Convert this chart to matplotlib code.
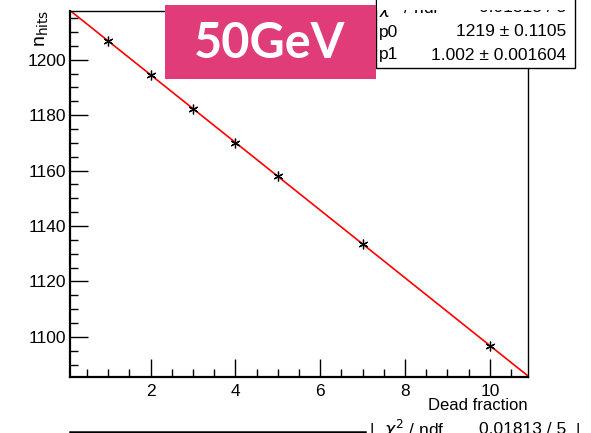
import matplotlib
matplotlib.use("Agg")
import matplotlib.pyplot as plt
from matplotlib.patches import Rectangle
from matplotlib.lines import Line2D
from matplotlib.ticker import MultipleLocator
import numpy as np

# dead fraction scan at 50 GeV
dead_fraction = [1, 2, 3, 4, 5, 7, 10]
n_hits = [1206.8, 1194.6, 1182.4, 1170.1, 1157.9, 1133.5, 1096.8]
p0, p0_err = 1219, 0.1105
p1, p1_err = 1.002, 0.001604
chi2_label = "0.01813 / 5"
beam_label = "50GeV"

W, H = 591, 433
plt.rcParams["font.family"] = ["Liberation Sans", "DejaVu Sans"]

fig = plt.figure(figsize=(W / 100, H / 100), dpi=100)


def fx(px):
    return px / W


def fy(py):
    return 1 - py / H


ax = fig.add_axes([fx(70), fy(377), fx(528) - fx(70), fy(11) - fy(377)])
ax.set_xlim(0.1, 10.9)
ax.set_ylim(1085.5, 1217.6)

xs = np.linspace(0.1, 10.9, 200)
ax.plot(xs, p0 * (1 - p1 * xs / 100), color="#ff0000", lw=1.2, zorder=2)
ax.plot(dead_fraction, n_hits, ls="none", marker=(6, 2, 0), ms=7,
        mec="black", mew=0.9, zorder=3)

ax.xaxis.set_major_locator(MultipleLocator(2))
ax.xaxis.set_minor_locator(MultipleLocator(0.5))
ax.yaxis.set_major_locator(MultipleLocator(20))
ax.yaxis.set_minor_locator(MultipleLocator(5))
ax.tick_params(which="both", direction="in", top=False, right=False,
               width=1.0, labelsize=12.5, colors="black")
ax.tick_params(axis="y", which="major", length=13, pad=3)
ax.tick_params(axis="x", which="major", length=13, pad=5)
ax.tick_params(which="minor", length=6)
for s in ax.spines.values():
    s.set_linewidth(1.0)
ax.spines["left"].set_linewidth(1.6)
ax.spines["bottom"].set_linewidth(1.6)

fig.text(fx(528), fy(405), "Dead fraction", ha="right", va="center", fontsize=12)
fig.text(fx(42), fy(10), r"n$_{\rm hits}$", ha="center", va="top",
         rotation=90, fontsize=14)

# fit stats box, top right (first row mostly hidden)
fig.add_artist(Rectangle((fx(376), fy(68)), fx(575) - fx(376), fy(-5) - fy(68),
                         transform=fig.transFigure, facecolor="white",
                         edgecolor="black", lw=1.0, zorder=3))
fig.text(fx(379), fy(8), r"$\chi^2$ / ndf", ha="left", va="center", fontsize=12.5, zorder=4)
fig.text(fx(566), fy(8), chi2_label, ha="right", va="center", fontsize=12.5, zorder=4)
fig.add_artist(Rectangle((fx(377), fy(9.5)), fx(574) - fx(377), fy(-5) - fy(9.5),
                         transform=fig.transFigure, facecolor="white",
                         edgecolor="none", zorder=4.5))
fig.text(fx(379), fy(32), "p0", ha="left", va="center", fontsize=12.5, zorder=4)
fig.text(fx(566), fy(32), f"{p0} \u00b1 {p0_err}", ha="right", va="center",
         fontsize=12.5, zorder=4)
fig.text(fx(379), fy(55), "p1", ha="left", va="center", fontsize=12.5, zorder=4)
fig.text(fx(566), fy(55), f"{p1} \u00b1 {p1_err}", ha="right", va="center",
         fontsize=12.5, zorder=4)

# beam energy tag
fig.add_artist(Rectangle((fx(165), fy(79)), fx(376) - fx(165), fy(5) - fy(79),
                         transform=fig.transFigure, facecolor="#e13c7a",
                         edgecolor="none", zorder=5))
fig.text(fx(270), fy(43), beam_label, ha="center", va="center", color="white",
         fontsize=35, fontweight="bold", family=["Lato", "DejaVu Sans"], zorder=6)

# second stats box, cut off at the bottom
fig.add_artist(Line2D([fx(70), fx(365)], [fy(432), fy(432)],
                      transform=fig.transFigure, color="black", lw=1.8))
fig.text(fx(372), fy(430), "|", ha="center", va="center", fontsize=12)
fig.text(fx(384), fy(430), r"$\chi^2$ / ndf", ha="left", va="center", fontsize=12.5)
fig.text(fx(566), fy(430), chi2_label, ha="right", va="center", fontsize=12.5)
fig.text(fx(578), fy(430), "|", ha="center", va="center", fontsize=12)

fig.savefig("out.png", dpi=100)
